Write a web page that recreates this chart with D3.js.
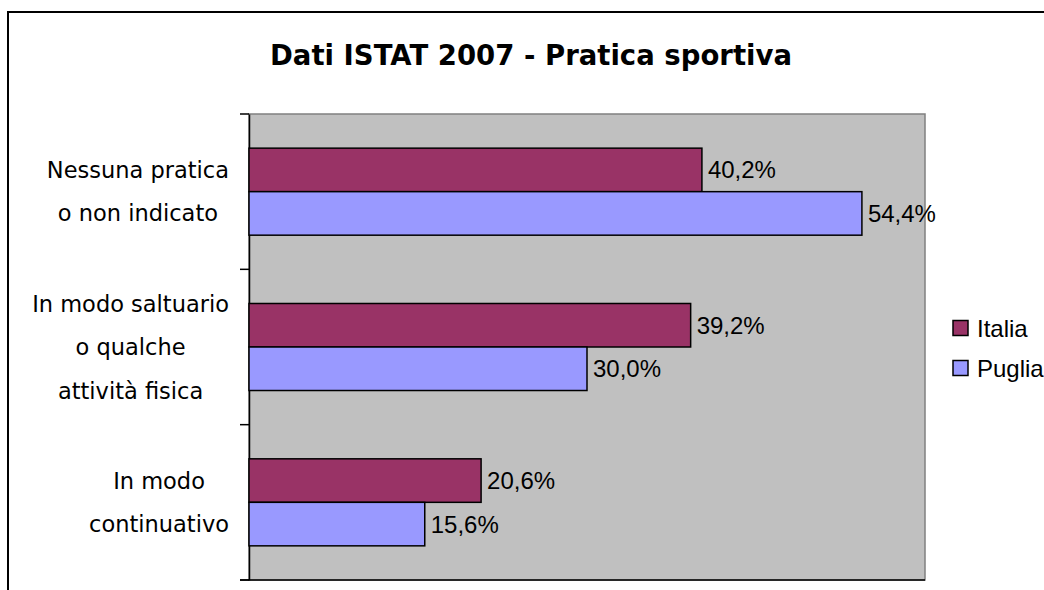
<!DOCTYPE html>
<html><head><meta charset="utf-8">
<script src="https://cdn.jsdelivr.net/npm/d3@7"></script>
<style>body{margin:0;background:#fff}svg{display:block}</style>
</head><body>
<svg id="c" width="1044" height="590"></svg>
<script>
const categories = ["Nessuna pratica o non indicato", "In modo saltuario o qualche attività fisica", "In modo continuativo"];
const categoryLines = [["Nessuna pratica", "o non indicato"], ["In modo saltuario", "o qualche", "attività fisica"], ["In modo", "continuativo"]];
const series = ["Italia", "Puglia"];
const italia = [40.2, 39.2, 20.6];
const puglia = [54.4, 30.0, 15.6];
const colors = ["#993366", "#9999FF"];
const title = "Dati ISTAT 2007 - Pratica sportiva";

const svg = d3.select("#c");
const plot = {x0: 249, x1: 925, y0: 114, y1: 580};
const catFont = "'DejaVu Sans', Verdana, sans-serif";
const numFont = "'Liberation Sans', Arial, sans-serif";

// outer frame
svg.append("rect").attr("x", 8).attr("y", 12).attr("width", 1100).attr("height", 700)
  .attr("fill", "#fff").attr("stroke", "#000").attr("stroke-width", 2);

const x = d3.scaleLinear().domain([0, 60]).range([plot.x0, plot.x1]);
const y0 = d3.scaleBand().domain(categories).range([plot.y0, plot.y1]);
const y1 = d3.scaleBand().domain(series).range([0, y0.bandwidth()]).paddingOuter(0.785);

// plot area
svg.append("rect").attr("x", plot.x0).attr("y", plot.y0)
  .attr("width", plot.x1 - plot.x0).attr("height", plot.y1 - plot.y0)
  .attr("fill", "#C0C0C0").attr("stroke", "#808080").attr("stroke-width", 1.5);

// category axis
const axis = d3.axisLeft(y0).tickSize(0).tickFormat("");
const g = svg.append("g").attr("transform", `translate(${plot.x0},0)`).call(axis);
g.select(".domain").attr("stroke", "#000").attr("stroke-width", 1.5);
const bounds = categories.map(c => y0(c)).concat([plot.y1]);
svg.append("g").selectAll("line").data(bounds).join("line")
  .attr("x1", plot.x0 - 9).attr("x2", plot.x0).attr("y1", d => d).attr("y2", d => d)
  .attr("stroke", "#000").attr("stroke-width", 1.5);
svg.append("line").attr("x1", plot.x0 - 9).attr("x2", plot.x1).attr("y1", plot.y1).attr("y2", plot.y1)
  .attr("stroke", "#000").attr("stroke-width", 1.5);

// bars
const data = [italia, puglia];
categories.forEach((c, i) => {
  series.forEach((s, j) => {
    const v = data[j][i];
    const yy = y0(c) + y1(s);
    svg.append("rect").attr("x", x(0)).attr("y", yy)
      .attr("width", x(v) - x(0)).attr("height", y1.bandwidth())
      .attr("fill", colors[j]).attr("stroke", "#000").attr("stroke-width", 1.5);
    svg.append("text").attr("x", x(v) + 6).attr("y", yy + y1.bandwidth() / 2)
      .attr("dominant-baseline", "central")
      .attr("font-family", numFont).attr("font-size", 24).attr("fill", "#000")
      .text(v.toFixed(1).replace(".", ",") + "%");
  });
});

// category labels
categories.forEach((c, i) => {
  const lines = categoryLines[i];
  const cy = y0(c) + y0.bandwidth() / 2;
  const lh = 43.5;
  const gg = svg.append("g");
  const ts = lines.map((l, k) => gg.append("text")
    .attr("y", cy + (k - (lines.length - 1) / 2) * lh)
    .attr("dominant-baseline", "central")
    .attr("text-anchor", "middle")
    .attr("font-family", catFont).attr("font-size", 22.5).attr("fill", "#000")
    .text(l));
  const maxW = d3.max(ts, t => t.node().getComputedTextLength());
  ts.forEach(t => t.attr("x", 229 - maxW / 2));
});

// title
svg.append("text").attr("x", 531).attr("y", 65).attr("text-anchor", "middle")
  .attr("font-family", catFont).attr("font-weight", "bold").attr("font-size", 28)
  .attr("textLength", 522).attr("lengthAdjust", "spacingAndGlyphs")
  .text(title);

// legend
const lg = svg.append("g");
series.forEach((s, j) => {
  const ly = 328 + j * 40;
  lg.append("rect").attr("x", 953).attr("y", ly - 7.5).attr("width", 15).attr("height", 15)
    .attr("fill", colors[j]).attr("stroke", "#000").attr("stroke-width", 1.5);
  lg.append("text").attr("x", 977).attr("y", ly).attr("dominant-baseline", "central")
    .attr("font-family", numFont).attr("font-size", 24).text(s);
});
</script>
</body></html>
